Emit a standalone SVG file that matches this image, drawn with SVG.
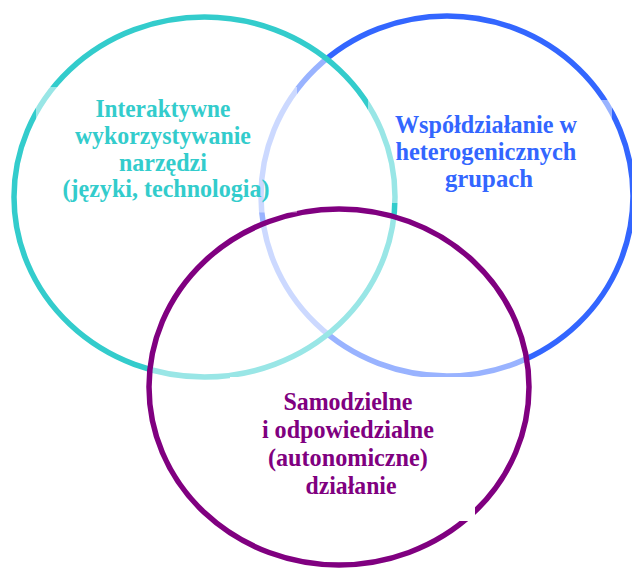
<svg xmlns="http://www.w3.org/2000/svg" width="632" height="571" viewBox="0 0 632 571">
<style>
.ring{fill:#ffffff;fill-opacity:0.5;stroke-width:5.5}
.lbl{font-family:"Liberation Serif","Times New Roman",serif;font-weight:bold;font-size:25px;text-anchor:middle}
.veil{fill:#ffffff;fill-opacity:0.5}
</style>
<rect width="632" height="571" fill="#ffffff"/>
<g id="circles">
<ellipse id="blue-ring" class="ring" cx="447" cy="196" rx="186" ry="180" stroke="#3366FF"/>
<ellipse id="teal-ring" class="ring" cx="204.5" cy="197" rx="190.5" ry="180" stroke="#33CCCC"/>
<ellipse id="purple-ring" class="ring" cx="339" cy="387" rx="190" ry="178" stroke="#800080"/>
</g>
<g id="node-teal">
<rect class="veil" x="36" y="87" width="261" height="125.5"/>
<text class="lbl" fill="#33CCCC">
<tspan x="166" y="117" textLength="135" lengthAdjust="spacingAndGlyphs">Interaktywne</tspan>
<tspan x="166" y="144" textLength="176" lengthAdjust="spacingAndGlyphs">wykorzystywanie</tspan>
<tspan x="166" y="171" textLength="88" lengthAdjust="spacingAndGlyphs">narzędzi</tspan>
<tspan x="166" y="197" textLength="207" lengthAdjust="spacingAndGlyphs">(języki, technologia)</tspan>
</text>
</g>
<g id="node-blue">
<rect class="veil" x="368" y="100" width="244" height="103"/>
<text class="lbl" fill="#3366FF">
<tspan x="489" y="133" textLength="182" lengthAdjust="spacingAndGlyphs">Współdziałanie w</tspan>
<tspan x="489" y="160" textLength="181" lengthAdjust="spacingAndGlyphs">heterogenicznych</tspan>
<tspan x="489" y="187" textLength="88" lengthAdjust="spacingAndGlyphs">grupach</tspan>
</text>
</g>
<g id="node-purple">
<rect x="230" y="377" width="245" height="144" fill="#ffffff"/>
<text class="lbl" fill="#800080">
<tspan x="351" y="410" textLength="129" lengthAdjust="spacingAndGlyphs">Samodzielne</tspan>
<tspan x="351" y="438" textLength="172" lengthAdjust="spacingAndGlyphs">i odpowiedzialne</tspan>
<tspan x="351" y="466" textLength="160" lengthAdjust="spacingAndGlyphs">(autonomiczne)</tspan>
<tspan x="351" y="494" textLength="91" lengthAdjust="spacingAndGlyphs">działanie</tspan>
</text>
</g>
</svg>
